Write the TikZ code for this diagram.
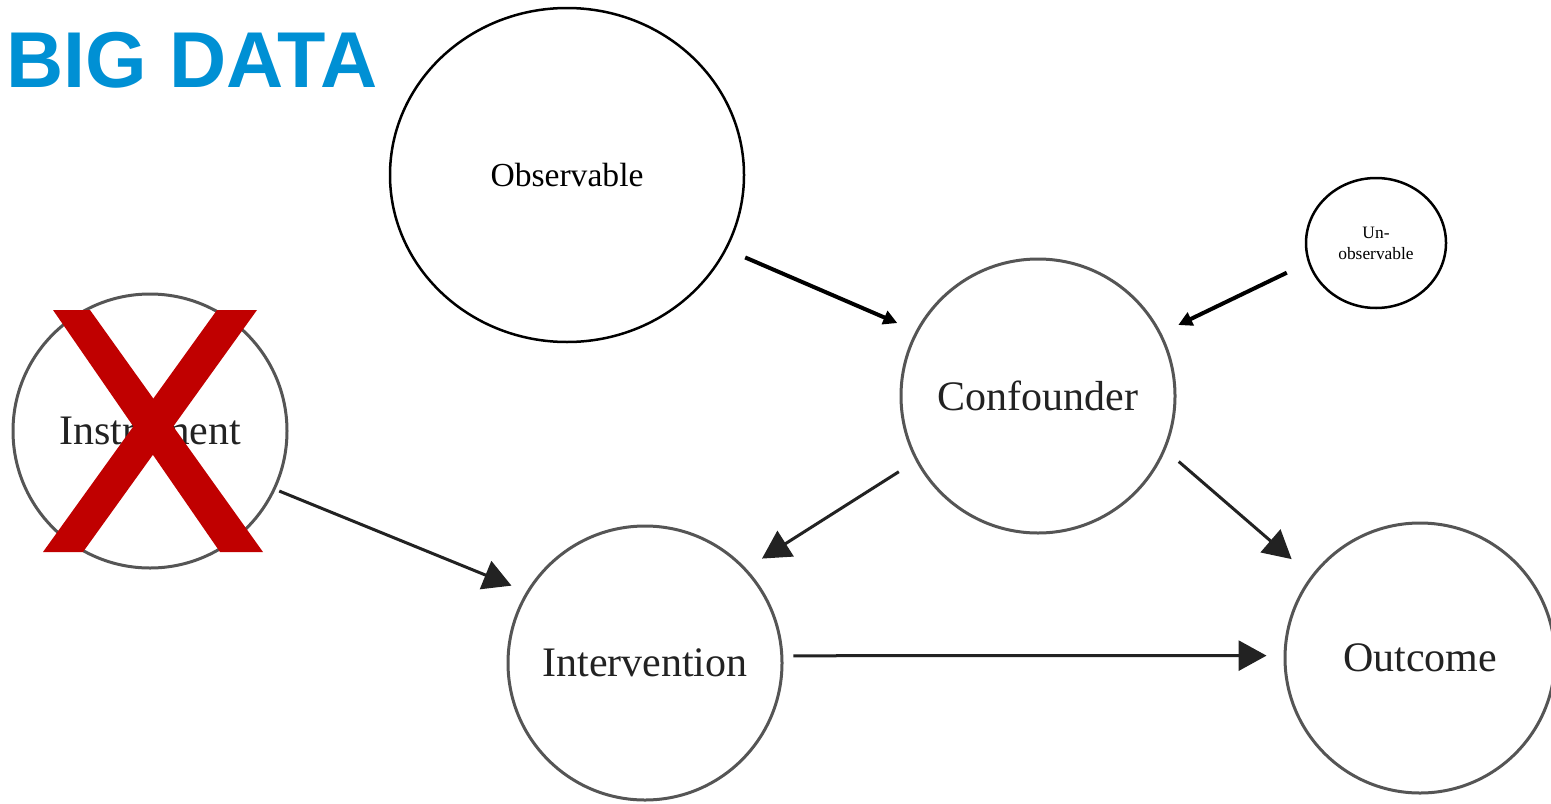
\documentclass[tikz,border=0pt]{standalone}
\usepackage{fontspec}
\setmainfont{Liberation Serif}
\newfontfamily\headfont{Liberation Sans}
\usetikzlibrary{shapes.geometric,arrows.meta}
\definecolor{bigblue}{RGB}{0,144,212}
\definecolor{xred}{RGB}{192,0,0}
\definecolor{ringgray}{RGB}{85,85,85}
\definecolor{arrowgray}{RGB}{34,34,34}
\begin{document}
\begin{tikzpicture}[x=0.5pt,y=-0.5pt,
 blackring/.style={ellipse,draw=black,line width=1.25pt,inner sep=0pt},
 grayring/.style={circle,draw=ringgray,line width=1.5pt,inner sep=0pt,minimum size=137pt,font=\fontsize{21}{25}\selectfont,text=arrowgray},
 blackarrow/.style={draw=black,line width=2pt,-{Triangle[length=7pt,width=7pt]}},
 grayarrow/.style={draw=arrowgray,line width=1.5pt,-{Triangle[length=14pt,width=15pt]}}]
\useasboundingbox (0,0) rectangle (1551,803);
\fill[white] (0,0) rectangle (1551,803);
\node[anchor=base west,inner sep=0pt,text=bigblue,font=\headfont\bfseries\fontsize{39.6}{46}\selectfont] (title) at (6,87) {BIG DATA};
\node[blackring,minimum width=177pt,minimum height=167pt,font=\fontsize{16.8}{20}\selectfont] (obs) at (567,175) {Observable};
\node[blackring,minimum width=70pt,minimum height=65pt,align=center,font=\fontsize{8.7}{10.5}\selectfont] (unobs) at (1376,243) {Un-\\observable};
\node[grayring] (conf) at (1038,396) {Confounder};
\node[grayring] (inst) at (150,431) {Instrument};
\node[grayring] (interv) at (645,663) {Intervention};
\node[grayring,minimum size=135pt] (outc) at (1420,658) {Outcome};
\draw[blackarrow,shorten <=10pt,shorten >=10pt] (obs.-25.1) -- (conf.152.8);
\draw[blackarrow,shorten <=11.75pt,shorten >=9.35pt] (unobs.196.9) -- (conf.27.6);
\draw[grayarrow,shorten <=2pt,shorten >=8pt] (inst.-25.5) -- (interv.149.4);
\draw[grayarrow,shorten <=10pt,shorten >=9.3pt] (conf.208) -- (interv.43.4);
\draw[grayarrow,shorten <=8.75pt,shorten >=12.8pt] (conf.-23.2) -- (outc.143.6);
\draw[grayarrow,shorten <=5pt,shorten >=8.5pt] (interv.3.6) -- (outc.179.2);
\fill[xred] (53,310) -- (90,310) -- (263,552) -- (220,552) -- cycle;
\fill[xred] (217,310) -- (257,310) -- (83,552) -- (43,552) -- cycle;
\end{tikzpicture}
\end{document}
